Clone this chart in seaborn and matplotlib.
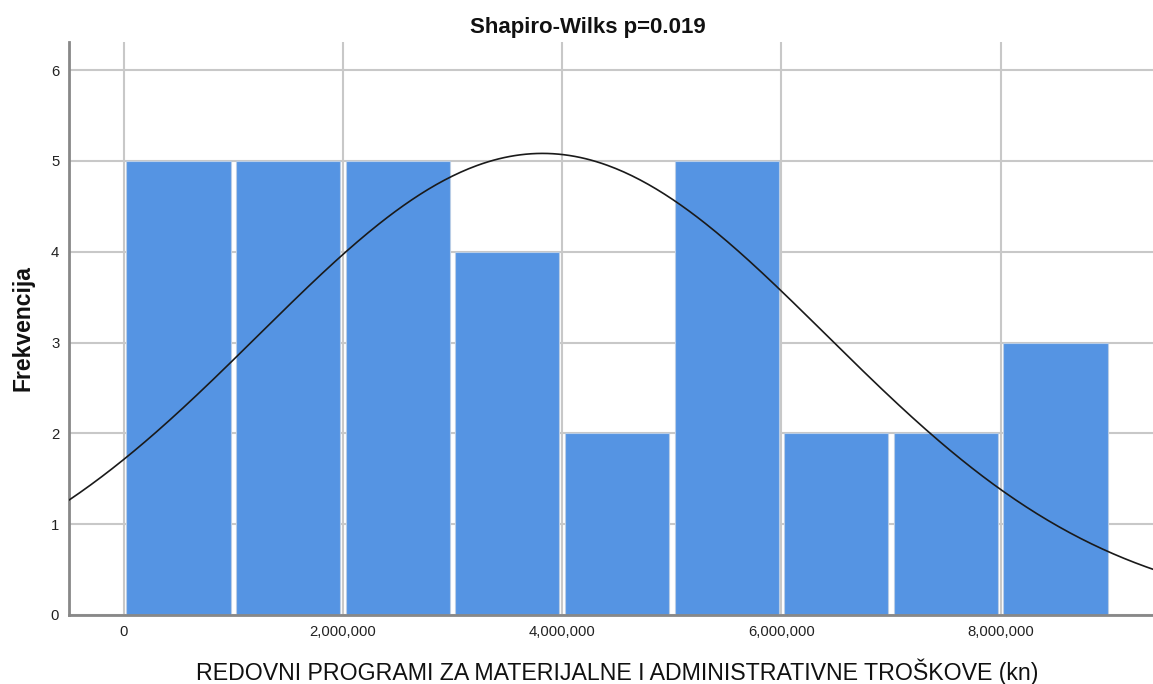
import numpy as np
import pandas as pd
import seaborn as sns
import matplotlib
matplotlib.use("Agg")
import matplotlib.pyplot as plt
from matplotlib.ticker import FuncFormatter

# Data
bin_edges = [0, 1e6, 2e6, 3e6, 4e6, 5e6, 6e6, 7e6, 8e6, 9e6]
counts = [5, 5, 5, 4, 2, 5, 2, 2, 3]
fit_mean = 3.82e6
fit_sd = 2.59e6
x_ticks = [0, 2e6, 4e6, 6e6, 8e6]
y_ticks = [0, 1, 2, 3, 4, 5, 6]
title = "Shapiro-Wilks p=0.019"
xlabel = "REDOVNI PROGRAMI ZA MATERIJALNE I ADMINISTRATIVNE TROŠKOVE (kn)"
ylabel = "Frekvencija"

sns.set_theme(style="white")
plt.rcParams['font.family'] = ['Liberation Sans', 'DejaVu Sans']

fig = plt.figure(figsize=(11.53, 6.84), dpi=100)
ax = fig.add_axes([0.0598, 0.1009, 0.9402, 0.8377])

centers = [(bin_edges[i] + bin_edges[i + 1]) / 2 for i in range(len(counts))]
df = pd.DataFrame({"x": centers, "w": counts})
sns.histplot(data=df, x="x", weights="w", bins=bin_edges, ax=ax, shrink=0.95,
             color="#5594E3", alpha=1.0, edgecolor="#b9cde6", linewidth=0.8, zorder=2)

n = sum(counts)
bw = bin_edges[1] - bin_edges[0]
xs = np.linspace(-0.5e6, 9.4e6, 400)
ys = n * bw / (fit_sd * np.sqrt(2 * np.pi)) * np.exp(-0.5 * ((xs - fit_mean) / fit_sd) ** 2)
sns.lineplot(x=xs, y=ys, ax=ax, color="#1a1a1a", linewidth=1.2, zorder=3)

ax.set_xlim(-0.5e6, 9.39e6)
ax.set_ylim(0, 6.31)
ax.set_xticks(x_ticks)
ax.set_yticks(y_ticks)
ax.xaxis.set_major_formatter(FuncFormatter(lambda v, p: f"{int(v):,}"))
ax.grid(True, color="#c8c8c8", linewidth=1.5, zorder=0)
ax.set_axisbelow(True)
ax.tick_params(axis="both", length=0, labelsize=10.7, colors="#222222")
ax.tick_params(axis="x", pad=7)
ax.tick_params(axis="y", pad=7)

for s in ["top", "right"]:
    ax.spines[s].set_visible(False)
ax.spines["left"].set_color("#888888")
ax.spines["left"].set_linewidth(2)
ax.spines["bottom"].set_color("#888888")
ax.spines["bottom"].set_linewidth(2)

fig.text(588 / 1153, 1 - 28 / 684, title, fontsize=16, fontweight="bold",
         color="#111111", ha="center", va="center")
ax.set_xlabel(xlabel, fontsize=16.7, color="#111111", labelpad=14)
ax.xaxis.label.set_x(0.506)
ax.set_ylabel(ylabel, fontsize=16.5, fontweight="bold", color="#111111", labelpad=12)

fig.savefig("out.png", dpi=100)
